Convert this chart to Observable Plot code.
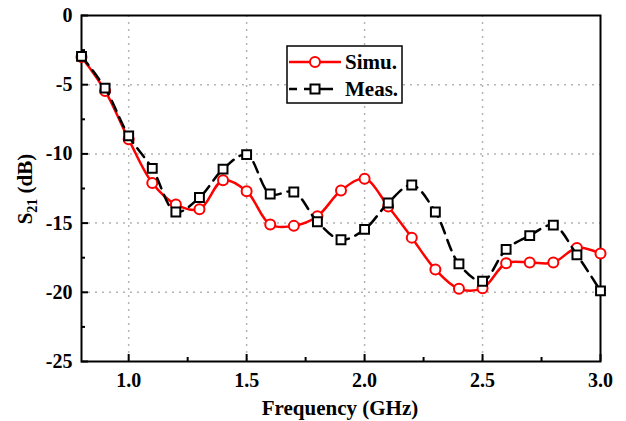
<!DOCTYPE html>
<html><head><meta charset="utf-8">
<script src="https://cdn.jsdelivr.net/npm/d3@7"></script>
<script src="https://cdn.jsdelivr.net/npm/@observablehq/plot@0.6"></script>
<style>body{margin:0;background:#fff}</style>
</head><body><div id="chart"></div>
<script>
const freq = [0.8,0.9,1.0,1.1,1.2,1.3,1.4,1.5,1.6,1.7,1.8,1.9,2.0,2.1,2.2,2.3,2.4,2.5,2.6,2.7,2.8,2.9,3.0];
const simu = [-3.0,-5.45,-8.95,-12.1,-13.65,-14.0,-11.9,-12.7,-15.1,-15.2,-14.5,-12.65,-11.8,-13.8,-16.05,-18.35,-19.75,-19.7,-17.9,-17.85,-17.85,-16.8,-17.2];
const meas = [-2.95,-5.25,-8.7,-11.05,-14.2,-13.15,-11.1,-10.05,-12.9,-12.75,-14.9,-16.2,-15.45,-13.55,-12.25,-14.2,-17.95,-19.2,-16.9,-15.9,-15.15,-17.3,-19.9];
const seriesNames = ["Simu.", "Meas."];
const xTicks = [1.0, 1.5, 2.0, 2.5, 3.0];
const xMinor = [1.25, 1.75, 2.25, 2.75];
const xGrid = [1.0, 1.5, 2.0, 2.5];
const yTicks = [0, -5, -10, -15, -20, -25];
const yMinor = [-2.5, -7.5, -12.5, -17.5, -22.5];
const yGrid = [-5, -10, -15, -20];

const simuData = freq.map((f, i) => ({f, v: simu[i]}));
const measData = freq.map((f, i) => ({f, v: meas[i]}));

const font = "Liberation Serif";
const gridStyle = {stroke: "#b4b4b4", strokeOpacity: 1, strokeDasharray: "2,5", strokeWidth: 1.5};

const plot = Plot.plot({
  width: 626, height: 421,
  marginLeft: 81, marginRight: 26, marginTop: 15, marginBottom: 60,
  style: {fontFamily: "Liberation Serif, serif", fontWeight: "bold", fontSize: "20px", background: "white", color: "black"},
  x: {domain: [0.8, 3.0]},
  y: {domain: [-25, 0]},
  marks: [
    Plot.gridX(xGrid, gridStyle),
    Plot.gridY(yGrid, gridStyle),
    Plot.axisX({ticks: xTicks, tickSize: -7, tickPadding: 18, strokeWidth: 2, tickFormat: d => d.toFixed(1), label: null}),
    Plot.axisX({ticks: xMinor, tickSize: -4, strokeWidth: 2, tickFormat: () => "", label: null}),
    Plot.axisY({ticks: yTicks, tickSize: -7, tickPadding: 16, strokeWidth: 2, tickFormat: d => String(d), label: null}),
    Plot.axisY({ticks: yMinor, tickSize: -4, strokeWidth: 2, tickFormat: () => "", label: null}),
    Plot.frame({stroke: "black", strokeWidth: 2}),
    Plot.line(simuData, {x: "f", y: "v", stroke: "#ff0000", strokeWidth: 2.5, curve: "catmull-rom"}),
    Plot.dot(simuData, {x: "f", y: "v", r: 5, stroke: "#ff0000", strokeWidth: 2, fill: "white"}),
    Plot.line(measData, {x: "f", y: "v", stroke: "black", strokeWidth: 2.5, strokeDasharray: "11,7", curve: "catmull-rom"}),
    Plot.dot(measData, {x: "f", y: "v", r: 5, symbol: "square", stroke: "black", strokeWidth: 2, fill: "white"})
  ]
});
document.getElementById("chart").appendChild(plot);

const svg = d3.select(plot);
// axis labels
const yl = svg.append("text")
  .attr("transform", "translate(32,189) rotate(-90)")
  .attr("text-anchor", "middle")
  .attr("font-family", font).attr("font-weight", "bold").attr("font-size", 21).attr("fill", "black");
yl.append("tspan").text("S");
yl.append("tspan").text("21").attr("font-size", 14).attr("dy", "5");
yl.append("tspan").text(" (dB)").attr("dy", "-5");

svg.append("text")
  .attr("x", 340).attr("y", 415)
  .attr("text-anchor", "middle")
  .attr("font-family", font).attr("font-weight", "bold").attr("font-size", 21).attr("fill", "black")
  .text("Frequency (GHz)");

// legend
const lg = svg.append("g");
lg.append("rect").attr("x", 287).attr("y", 46).attr("width", 115).attr("height", 57)
  .attr("fill", "white").attr("stroke", "black").attr("stroke-width", 1.5);
const rows = [62, 89];
lg.append("line").attr("x1", 289).attr("x2", 341).attr("y1", rows[0]).attr("y2", rows[0])
  .attr("stroke", "#ff0000").attr("stroke-width", 2.5);
lg.append("circle").attr("cx", 315).attr("cy", rows[0]).attr("r", 5)
  .attr("fill", "white").attr("stroke", "#ff0000").attr("stroke-width", 2);
lg.append("line").attr("x1", 289).attr("x2", 333).attr("y1", rows[1]).attr("y2", rows[1])
  .attr("stroke", "black").attr("stroke-width", 2.5).attr("stroke-dasharray", "8,7,30");
lg.append("rect").attr("x", 310.5).attr("y", rows[1] - 4.5).attr("width", 9).attr("height", 9)
  .attr("fill", "white").attr("stroke", "black").attr("stroke-width", 2);
seriesNames.forEach((n, i) => {
  lg.append("text").attr("x", 345).attr("y", rows[i]).attr("dy", "0.35em")
    .attr("text-anchor", "start")
    .attr("font-family", font).attr("font-weight", "bold").attr("font-size", 21).attr("fill", "black")
    .text(n);
});
</script>
</body></html>
